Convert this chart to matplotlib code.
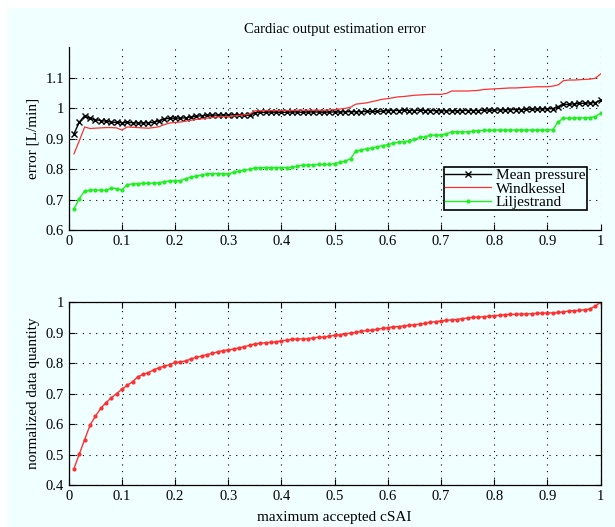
import numpy as np
import matplotlib
matplotlib.use('Agg')
import matplotlib.pyplot as plt
from matplotlib.ticker import FuncFormatter
from matplotlib.patches import Rectangle

plt.rcParams['font.family'] = ['Liberation Serif', 'DejaVu Serif']

# maximum accepted cSAI, 0.01 .. 1.00
csai = np.arange(1, 101) / 100

mean_pressure = [
    0.916, 0.954, 0.975, 0.966, 0.962, 0.959, 0.957, 0.954, 0.953, 0.952,
    0.953, 0.952, 0.951, 0.951, 0.952, 0.953, 0.959, 0.964, 0.967, 0.967,
    0.967, 0.968, 0.971, 0.973, 0.975, 0.976, 0.977, 0.977, 0.977, 0.977,
    0.978, 0.978, 0.977, 0.976, 0.985, 0.986, 0.986, 0.987, 0.986, 0.986,
    0.986, 0.987, 0.987, 0.986, 0.987, 0.987, 0.987, 0.986, 0.987, 0.987,
    0.987, 0.988, 0.988, 0.988, 0.988, 0.989, 0.989, 0.989, 0.990, 0.992,
    0.992, 0.992, 0.993, 0.992, 0.992, 0.993, 0.992, 0.992, 0.991, 0.991,
    0.991, 0.991, 0.991, 0.992, 0.992, 0.992, 0.992, 0.993, 0.993, 0.993,
    0.994, 0.994, 0.995, 0.995, 0.995, 0.996, 0.996, 0.997, 0.997, 0.998,
    0.998, 1.005, 1.012, 1.012, 1.014, 1.015, 1.016, 1.017, 1.018, 1.026,
]

windkessel = [
    0.850, 0.893, 0.938, 0.933, 0.934, 0.935, 0.936, 0.936, 0.935, 0.928,
    0.938, 0.937, 0.936, 0.935, 0.934, 0.936, 0.939, 0.946, 0.951, 0.953,
    0.954, 0.957, 0.960, 0.963, 0.965, 0.967, 0.969, 0.971, 0.972, 0.972,
    0.974, 0.976, 0.978, 0.980, 0.991, 0.991, 0.992, 0.992, 0.992, 0.992,
    0.992, 0.992, 0.993, 0.993, 0.993, 0.993, 0.993, 0.993, 0.994, 0.995,
    0.997, 0.999, 1.003, 1.013, 1.015, 1.017, 1.021, 1.025, 1.029, 1.031,
    1.034, 1.037, 1.038, 1.040, 1.042, 1.043, 1.044, 1.045, 1.045, 1.045,
    1.048, 1.056, 1.056, 1.056, 1.056, 1.057, 1.058, 1.061, 1.062, 1.063,
    1.064, 1.065, 1.066, 1.066, 1.067, 1.068, 1.069, 1.070, 1.070, 1.070,
    1.072, 1.076, 1.090, 1.092, 1.092, 1.093, 1.094, 1.095, 1.098, 1.112,
]

liljestrand = [
    0.670, 0.703, 0.728, 0.730, 0.732, 0.730, 0.730, 0.738, 0.736, 0.731,
    0.749, 0.751, 0.752, 0.753, 0.753, 0.754, 0.755, 0.759, 0.761, 0.762,
    0.762, 0.768, 0.774, 0.777, 0.780, 0.784, 0.785, 0.785, 0.785, 0.784,
    0.789, 0.793, 0.796, 0.799, 0.804, 0.804, 0.805, 0.805, 0.805, 0.805,
    0.805, 0.806, 0.809, 0.813, 0.813, 0.814, 0.815, 0.815, 0.815, 0.818,
    0.822, 0.826, 0.834, 0.860, 0.862, 0.867, 0.869, 0.873, 0.877, 0.880,
    0.885, 0.888, 0.890, 0.892, 0.898, 0.904, 0.906, 0.911, 0.911, 0.912,
    0.915, 0.922, 0.922, 0.922, 0.922, 0.924, 0.926, 0.927, 0.927, 0.928,
    0.928, 0.928, 0.928, 0.928, 0.928, 0.928, 0.928, 0.928, 0.928, 0.928,
    0.929, 0.954, 0.967, 0.967, 0.967, 0.968, 0.968, 0.969, 0.972, 0.983,
]

data_quantity = [
    0.454, 0.502, 0.549, 0.596, 0.625, 0.651, 0.670, 0.686, 0.700, 0.714,
    0.727, 0.739, 0.755, 0.763, 0.769, 0.778, 0.785, 0.790, 0.795, 0.802,
    0.804, 0.807, 0.814, 0.819, 0.823, 0.828, 0.832, 0.837, 0.841, 0.843,
    0.846, 0.850, 0.854, 0.858, 0.863, 0.865, 0.867, 0.868, 0.870, 0.873,
    0.875, 0.878, 0.879, 0.879, 0.880, 0.883, 0.885, 0.886, 0.888, 0.891,
    0.893, 0.896, 0.898, 0.901, 0.904, 0.907, 0.908, 0.911, 0.914, 0.916,
    0.919, 0.920, 0.922, 0.924, 0.926, 0.928, 0.930, 0.934, 0.936, 0.938,
    0.940, 0.942, 0.943, 0.946, 0.948, 0.950, 0.951, 0.952, 0.954, 0.955,
    0.957, 0.959, 0.960, 0.960, 0.961, 0.961, 0.962, 0.963, 0.964, 0.964,
    0.965, 0.966, 0.968, 0.971, 0.972, 0.973, 0.975, 0.978, 0.987, 1.000,
]

bg = '#f0ffff'
fmt = FuncFormatter(lambda v, pos: '%g' % round(v, 3))

fig = plt.figure(figsize=(6.15, 5.27), dpi=100, facecolor='white')
fig.patches.append(Rectangle((7 / 615, 0), 1, 1 - 8 / 527, transform=fig.transFigure,
                             facecolor=bg, edgecolor='none', zorder=-10))

ax1 = fig.add_axes([0.1117, 0.5636, 0.865, 0.347])
ax2 = fig.add_axes([0.1117, 0.0797, 0.865, 0.347])

for ax in (ax1, ax2):
    ax.set_facecolor(bg)
    ax.set_xlim(0, 1)
    ax.set_xticks(np.arange(0, 1.01, 0.1))
    ax.xaxis.set_major_formatter(fmt)
    ax.yaxis.set_major_formatter(fmt)
    ax.grid(True, color='black', linestyle=(0, (1, 5)), linewidth=0.8)
    ax.set_axisbelow(True)
    ax.tick_params(direction='in', length=4, labelsize=10.5, width=0.8)
    for s in ax.spines.values():
        s.set_linewidth(0.9)

# top: estimation error
ax1.plot(csai, mean_pressure, color='black', marker='x', markersize=5, mew=1,
         linewidth=1, label='Mean pressure')
ax1.plot(csai, windkessel, color='#ff3030', linewidth=0.9, label='Windkessel')
ax1.plot(csai, liljestrand, color='#22ee22', marker='.', markersize=4,
         linewidth=1, label='Liljestrand')
ax1.set_ylim(0.6, 1.2)
ax1.set_yticks([0.6, 0.7, 0.8, 0.9, 1.0, 1.1])
ax1.spines['top'].set_visible(False)
ax1.spines['right'].set_visible(False)
ax1.set_ylabel('error [L/min]', fontsize=11)
ax1.set_title('Cardiac output estimation error', fontsize=10.5, pad=10)
leg = ax1.legend(loc='upper left', bbox_to_anchor=(0.705, 0.345), fontsize=11,
                 frameon=True, fancybox=False, borderpad=0.1, labelspacing=-0.02,
                 handlelength=3.0, handletextpad=0.3, borderaxespad=0)
leg.get_frame().set_edgecolor('black')
leg.get_frame().set_facecolor(bg)
leg.get_frame().set_linewidth(1.2)
leg.get_frame().set_alpha(1)

# bottom: normalized data quantity
ax2.plot(csai, data_quantity, color='#ff3030', marker='.', markersize=4,
         linewidth=1)
ax2.set_ylim(0.4, 1.0)
ax2.set_yticks([0.4, 0.5, 0.6, 0.7, 0.8, 0.9, 1.0])
ax2.tick_params(top=True, right=True)
ax2.set_ylabel('normalized data quantity', fontsize=11)
ax2.set_xlabel('maximum accepted cSAI', fontsize=11, labelpad=6)

fig.savefig('out.png', dpi=100, facecolor=fig.get_facecolor())
